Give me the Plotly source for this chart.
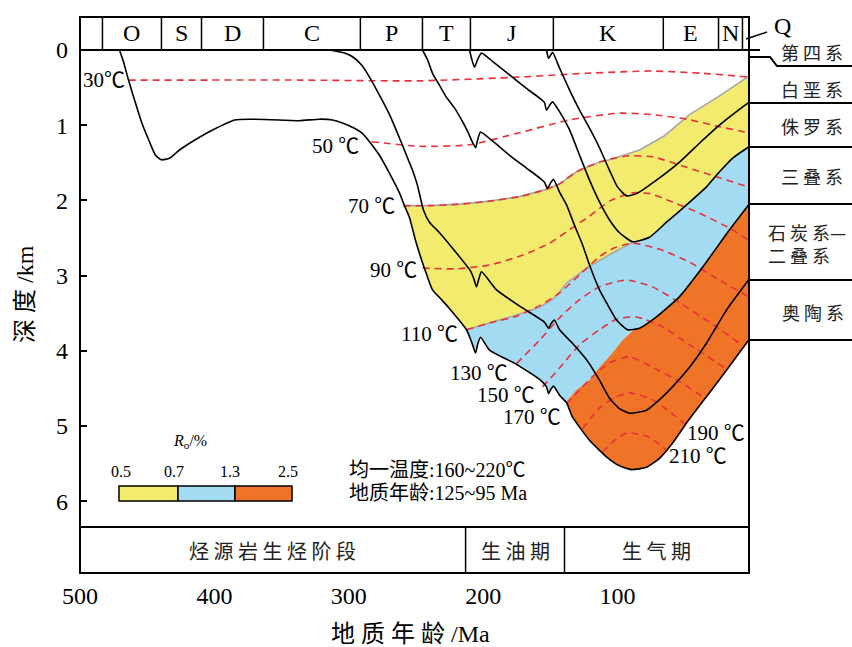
import plotly.graph_objects as go

# ---------------- data: burial curves (age Ma, depth km) ----------------
curve_O = [(470.6, 0.00), (467.6, 0.16), (463.9, 0.40), (459.5, 0.66), (454.2, 0.96), (448.3, 1.22),
           (443.8, 1.40), (439.4, 1.46), (433.4, 1.44), (426.0, 1.33), (411.1, 1.16), (399.9, 1.05),
           (385.0, 0.93), (373.9, 0.92), (351.6, 0.93), (336.7, 0.94), (321.8, 0.92), (312.1, 0.93),
           (304.7, 0.97), (295.8, 1.04), (290.5, 1.10), (284.6, 1.22), (277.2, 1.40), (269.7, 1.64),
           (262.3, 1.90), (258.6, 2.07), (254.8, 2.23), (250.4, 2.53), (245.9, 2.79), (242.2, 2.98),
           (237.7, 3.19), (231.0, 3.32), (223.6, 3.47), (212.4, 3.72), (208.7, 3.88), (205.7, 4.03),
           (204.2, 3.92), (202.0, 3.82), (195.3, 3.99), (175.2, 4.18), (158.1, 4.38), (152.9, 4.48),
           (151.4, 4.57), (149.9, 4.52), (147.7, 4.47), (143.2, 4.59), (138.0, 4.69), (133.6, 4.88),
           (120.9, 5.19), (108.3, 5.41), (98.6, 5.53), (89.7, 5.58), (78.5, 5.55), (68.8, 5.43),
           (59.2, 5.23), (48.7, 4.96), (33.9, 4.61), (19.0, 4.26), (2.6, 3.86)]
curve_CP = [(314.4, 0.00), (303.2, 0.04), (297.2, 0.09), (290.5, 0.20), (284.6, 0.36), (277.2, 0.60),
            (269.7, 0.86), (262.3, 1.17), (257.1, 1.40), (252.6, 1.60), (248.9, 1.80), (246.7, 1.97),
            (244.4, 2.13), (240.0, 2.29), (232.5, 2.43), (219.9, 2.70), (209.4, 2.94), (207.2, 3.03),
            (205.0, 3.15), (203.5, 3.06), (201.3, 2.95), (190.1, 3.19), (170.8, 3.43), (154.4, 3.62),
            (151.4, 3.70), (149.2, 3.63), (147.0, 3.59), (143.2, 3.72), (133.6, 3.90), (123.1, 4.12),
            (113.5, 4.39), (106.0, 4.63), (98.6, 4.77), (91.1, 4.83), (78.5, 4.79), (68.8, 4.65),
            (59.2, 4.48), (46.5, 4.22), (33.9, 3.90), (19.0, 3.46), (2.6, 3.06)]
curve_T = [(245.2, 0.00), (241.4, 0.13), (237.7, 0.31), (232.5, 0.47), (227.3, 0.63), (221.4, 0.77),
           (216.1, 0.93), (211.7, 1.08), (208.7, 1.20), (205.7, 1.30), (204.2, 1.20), (202.0, 1.09),
           (193.1, 1.21), (180.4, 1.40), (167.8, 1.57), (158.1, 1.70), (154.4, 1.76), (152.2, 1.84),
           (149.9, 1.77), (147.7, 1.72), (143.2, 1.89), (138.0, 2.06), (132.1, 2.33), (126.1, 2.59),
           (120.9, 2.86), (113.5, 3.19), (108.3, 3.36), (100.8, 3.59), (92.6, 3.72), (83.7, 3.70),
           (71.1, 3.55), (53.9, 3.28), (36.8, 2.89), (16.7, 2.39), (2.6, 2.06)]
curve_J = [(210.2, 0.00), (208.7, 0.11), (206.5, 0.23), (204.2, 0.13), (201.3, 0.04), (193.1, 0.15),
           (180.4, 0.33), (167.8, 0.51), (158.1, 0.64), (154.4, 0.70), (152.9, 0.80), (150.7, 0.74),
           (148.4, 0.69), (143.2, 0.82), (135.8, 1.06), (128.3, 1.40), (120.9, 1.73), (113.5, 2.02),
           (106.0, 2.26), (98.6, 2.43), (88.9, 2.55), (76.3, 2.49), (63.6, 2.29), (48.7, 2.06),
           (33.9, 1.82), (24.2, 1.62), (14.5, 1.44), (2.6, 1.29)]
curve_K = [(152.9, 0.00), (151.4, 0.11), (149.9, 0.07), (148.4, 0.03), (143.2, 0.24), (135.8, 0.53),
           (128.3, 0.80), (120.9, 1.04), (113.5, 1.30), (106.0, 1.60), (100.1, 1.82), (93.4, 1.94),
           (85.9, 1.91), (71.1, 1.73), (53.9, 1.49), (39.1, 1.24), (24.2, 1.00), (14.5, 0.86), (2.6, 0.70)]

# ---------------- data: isotherms (age Ma, depth km) ----------------
iso_30 = [(463.9, 0.40), (411.1, 0.40), (336.7, 0.40), (247.4, 0.41), (173.0, 0.36), (123.1, 0.31),
          (74.0, 0.28), (36.8, 0.31), (2.6, 0.36)]
iso_50 = [(283.1, 1.22), (247.4, 1.28), (210.2, 1.26), (173.0, 1.10), (135.8, 0.93), (98.6, 0.84),
          (74.0, 0.86), (48.7, 0.92), (24.2, 1.02), (2.6, 1.10)]
iso_70 = [(259.3, 2.07), (240.0, 2.07), (217.6, 2.05), (195.3, 2.01), (173.0, 1.95), (154.4, 1.86),
          (143.2, 1.78), (130.6, 1.62), (113.5, 1.49), (93.4, 1.41), (74.0, 1.42), (48.7, 1.56),
          (24.2, 1.70), (2.6, 1.82)]
iso_90 = [(245.2, 2.90), (219.9, 2.91), (195.3, 2.86), (170.8, 2.73), (150.7, 2.57), (135.8, 2.39),
          (120.9, 2.21), (106.0, 2.01), (88.9, 1.90), (76.3, 1.91), (63.6, 1.99), (39.1, 2.17),
          (16.7, 2.37), (2.6, 2.53)]
iso_110 = [(212.4, 3.72), (195.3, 3.63), (175.2, 3.54), (158.1, 3.40), (143.2, 3.23), (128.3, 2.99),
           (113.5, 2.75), (102.3, 2.63), (88.9, 2.57), (68.8, 2.65), (46.5, 2.82), (24.2, 3.06), (2.6, 3.28)]
iso_130 = [(175.2, 4.17), (158.1, 3.86), (143.2, 3.56), (128.3, 3.32), (113.5, 3.15), (93.4, 3.06),
           (74.0, 3.15), (53.9, 3.36), (31.6, 3.62), (9.3, 3.90)]
iso_150 = [(155.9, 4.48), (143.2, 4.23), (128.3, 3.92), (113.5, 3.72), (100.8, 3.58), (85.9, 3.55),
           (66.6, 3.68), (46.5, 3.92), (19.0, 4.24)]
iso_170 = [(138.0, 4.71), (128.3, 4.52), (117.2, 4.32), (106.0, 4.16), (91.1, 4.08), (74.0, 4.22),
           (53.9, 4.41), (35.3, 4.63)]
iso_190 = [(126.1, 5.04), (113.5, 4.76), (100.8, 4.61), (91.1, 4.56), (74.0, 4.65), (61.4, 4.81), (49.5, 4.98)]
iso_210 = [(111.2, 5.35), (100.8, 5.17), (92.6, 5.09), (76.3, 5.15), (64.3, 5.31)]

# ---------------- data: maturity (Ro) zone boundaries ----------------
ro07_top = [(259.3, 2.07), (240.0, 2.07), (217.6, 2.05), (195.3, 2.01), (173.0, 1.95), (154.4, 1.86),
            (143.2, 1.78), (130.6, 1.62), (113.5, 1.49), (106.0, 1.46), (83.7, 1.33), (65.1, 1.14),
            (46.5, 0.86), (24.2, 0.61), (2.6, 0.35)]
ro13_top = [(212.4, 3.72), (195.3, 3.63), (178.2, 3.54), (158.1, 3.42), (148.4, 3.32), (143.2, 3.22),
            (138.0, 3.10), (123.1, 2.90), (103.8, 2.70), (88.9, 2.56)]
ro25_top = [(138.0, 4.67), (130.6, 4.52), (120.9, 4.39), (113.5, 4.22), (103.8, 4.03), (96.4, 3.86),
            (88.0, 3.72)]

# ---------------- data: text ----------------
periods = ["", "O", "S", "D", "C", "P", "T", "J", "K", "E", "N", ""]
period_bounds = [500, 483.3, 439.4, 409.6, 363.5, 291.4, 245.2, 209.5, 147.8, 66.0, 24.9, 7.1, 2.6]
stages = ["烃 源 岩 生 烃 阶 段", "生 油 期", "生 气 期"]
stage_bounds = [500, 213.1, 139.5, 2.6]
iso_labels = ["30℃", "50 ℃", "70 ℃", "90 ℃", "110 ℃", "130 ℃", "150 ℃", "170 ℃", "190 ℃", "210 ℃"]
ro_ticks = ["0.5", "0.7", "1.3", "2.5"]
strata = ["第 四 系", "白 垩 系", "侏 罗 系", "三 叠 系", "石 炭 系—<br>二 叠 系", "奥 陶 系"]
age_ticks = [500, 400, 300, 200, 100]
depth_ticks = [0, 1, 2, 3, 4, 5, 6]

YELLOW = "#F2EB6E"
BLUE = "#A2DBF2"
ORANGE = "#F07428"
RED = "#E8313A"
SERIF = "Liberation Serif, Noto Sans CJK SC, serif"
CJK = "Noto Sans CJK SC, sans-serif"


def xs(pts):
    return [p[0] for p in pts]


def ys(pts):
    return [p[1] for p in pts]


def seg(pts, hi, lo):
    return [p for p in pts if lo <= p[0] <= hi]


def PX(x):  # layout pixel -> paper
    return (x - 80) / 672.0


def PY(y):
    return (573 - y) / 556.0


fig = go.Figure()

# ---- maturity zones ----
yellow_poly = (ro07_top + [(2.6, 1.29)] + seg(curve_J, 88.9, 0)[::-1] + ro13_top[::-1]
               + seg(curve_O, 258.6, 212.4)[::-1])
blue_poly = (ro13_top + seg(curve_J, 88.8, 0) + [(2.6, 2.06)] + seg(curve_T, 84, 0)[::-1]
             + ro25_top[::-1] + seg(curve_O, 212.4, 138.0)[::-1])
orange_poly = (ro25_top + seg(curve_T, 84, 0) + [(2.6, 3.86)] + seg(curve_O, 138.0, 0)[::-1])
for poly, col in [(yellow_poly, YELLOW), (blue_poly, BLUE), (orange_poly, ORANGE)]:
    fig.add_trace(go.Scatter(x=xs(poly), y=ys(poly), fill="toself", fillcolor=col, mode="lines",
                             line=dict(width=0, color=col), hoverinfo="skip", showlegend=False))

# soft grey edges of zones
for pts in [ro07_top, ro13_top]:
    fig.add_trace(go.Scatter(x=xs(pts), y=ys(pts), mode="lines", line=dict(color="#A8A8A8", width=1.6),
                             hoverinfo="skip", showlegend=False))

# ---- isotherms ----
for pts in [iso_30, iso_50, iso_70, iso_90, iso_110, iso_130, iso_150, iso_170, iso_190, iso_210]:
    fig.add_trace(go.Scatter(x=xs(pts), y=ys(pts), mode="lines",
                             line=dict(color=RED, width=1.6, dash="7px,5px", shape="spline", smoothing=0.6),
                             hoverinfo="skip", showlegend=False))

# ---- burial curves ----
for pts in [curve_O, curve_CP, curve_T, curve_J, curve_K]:
    fig.add_trace(go.Scatter(x=xs(pts), y=ys(pts), mode="lines",
                             line=dict(color="black", width=1.6, shape="spline", smoothing=0.5),
                             hoverinfo="skip", showlegend=False))

shapes = []
ann = []


def label(x, y, text, font, xref="paper", yref="paper", xanchor="center", **kw):
    d = dict(x=x, y=y, xref=xref, yref=yref, text=text, showarrow=False, xanchor=xanchor,
             yanchor="middle", font=font)
    d.update(kw)
    ann.append(d)


# frame
shapes.append(dict(type="rect", xref="paper", yref="paper", x0=0, x1=PX(749), y0=0, y1=1,
                   line=dict(color="black", width=2)))
# header bottom (depth 0) & stage top
shapes.append(dict(type="line", xref="paper", yref="paper", x0=0, x1=PX(760), y0=PY(50), y1=PY(50),
                   line=dict(color="black", width=2)))
shapes.append(dict(type="line", xref="paper", yref="paper", x0=0, x1=PX(749), y0=PY(527), y1=PY(527),
                   line=dict(color="black", width=2)))
for b in period_bounds[1:-1]:
    shapes.append(dict(type="line", xref="x", yref="paper", x0=b, x1=b, y0=PY(50), y1=1,
                       line=dict(color="black", width=1.5)))
for i, name in enumerate(periods):
    if name:
        label((period_bounds[i] + period_bounds[i + 1]) / 2, PY(33), name,
              dict(family=SERIF, size=24, color="black"), xref="x")
for b in stage_bounds[1:-1]:
    shapes.append(dict(type="line", xref="x", yref="paper", x0=b, x1=b, y0=0, y1=PY(527),
                       line=dict(color="black", width=1.5)))
for i, name in enumerate(stages):
    label((stage_bounds[i] + stage_bounds[i + 1]) / 2, PY(550), name,
          dict(family=CJK, size=20, color="#222"), xref="x")

# right stratigraphic column
shapes.append(dict(type="path", xref="paper", yref="paper",
                   path=f"M {PX(749)} {PY(57)} L {PX(770)} {PY(57)} L {PX(777)} {PY(66)} L {PX(852)} {PY(66)}",
                   line=dict(color="black", width=2)))
for yy in [103, 147, 204, 280, 340]:
    shapes.append(dict(type="line", xref="paper", yref="paper", x0=PX(749), x1=PX(852), y0=PY(yy), y1=PY(yy),
                       line=dict(color="black", width=2)))
shapes.append(dict(type="line", xref="paper", yref="paper", x0=PX(746), x1=PX(767), y0=PY(39), y1=PY(32),
                   line=dict(color="black", width=1.5)))
label(PX(782), PY(26), "Q", dict(family=SERIF, size=24, color="black"))
strata_pos = [(812, 52, "center"), (812, 89, "center"), (812, 126, "center"), (812, 176, "center"),
              (766, 243, "left"), (813, 312, "center")]
for (sx, sy, anc), name in zip(strata_pos, strata):
    label(PX(sx), PY(sy), name, dict(family=CJK, size=18, color="#222"), xanchor=anc, align="left")

# isotherm labels
iso_lab_pos = [(464.7, 0.40, "right"), (290.6, 1.27, "right"), (264.5, 2.07, "right"), (247.4, 2.93, "right"),
               (217.6, 3.78, "right"), (180.4, 4.30, "right"), (160.3, 4.59, "right"), (141.0, 4.88, "right"),
               (49.5, 5.09, "left"), (63.6, 5.40, "left")]
for (lx, ly, anc), t in zip(iso_lab_pos, iso_labels):
    label(lx, ly, t, dict(family=SERIF, size=21, color="black"), xref="x", yref="y", xanchor=anc)

# Ro legend
ro_edges = [119, 178, 235, 292]
for i, col in enumerate([YELLOW, BLUE, ORANGE]):
    shapes.append(dict(type="rect", xref="paper", yref="paper", x0=PX(ro_edges[i]), x1=PX(ro_edges[i + 1]),
                       y0=PY(501), y1=PY(486), fillcolor=col, line=dict(color="black", width=1.5)))
for tx, t in zip([121, 174, 230, 288], ro_ticks):
    label(PX(tx), PY(471), t, dict(family=SERIF, size=16, color="black"))
label(PX(190), PY(441), "<i>R</i><sub>o</sub>/%", dict(family=SERIF, size=16, color="black"))
label(PX(347), PY(470), "均一温度:160~220℃", dict(family=SERIF, size=20, color="black"), xanchor="left")
label(PX(347), PY(493), "地质年龄:125~95 Ma", dict(family=SERIF, size=20, color="black"), xanchor="left")

# axis titles
label(PX(410), PY(634), "地 质 年 龄 /Ma", dict(family=SERIF, size=24, color="black"))
label(PX(25), PY(294), "深 度 /km", dict(family=SERIF, size=24, color="black"), textangle=-90)

fig.update_layout(
    width=852, height=647,
    margin=dict(l=80, r=100, t=17, b=74),
    paper_bgcolor="white", plot_bgcolor="white",
    shapes=shapes, annotations=ann, showlegend=False,
    xaxis=dict(range=[500, 0], showgrid=False, zeroline=False, showline=False, tickvals=age_ticks,
               ticks="", ticklabelstandoff=6, tickfont=dict(family=SERIF, size=24, color="black")),
    yaxis=dict(range=[6.955, -0.4388], showgrid=False, zeroline=False, showline=False, tickvals=depth_ticks,
               ticks="inside", ticklen=7, tickwidth=2, tickcolor="black", ticklabelstandoff=11,
               tickfont=dict(family=SERIF, size=24, color="black")),
)

fig.write_html("out.html")
